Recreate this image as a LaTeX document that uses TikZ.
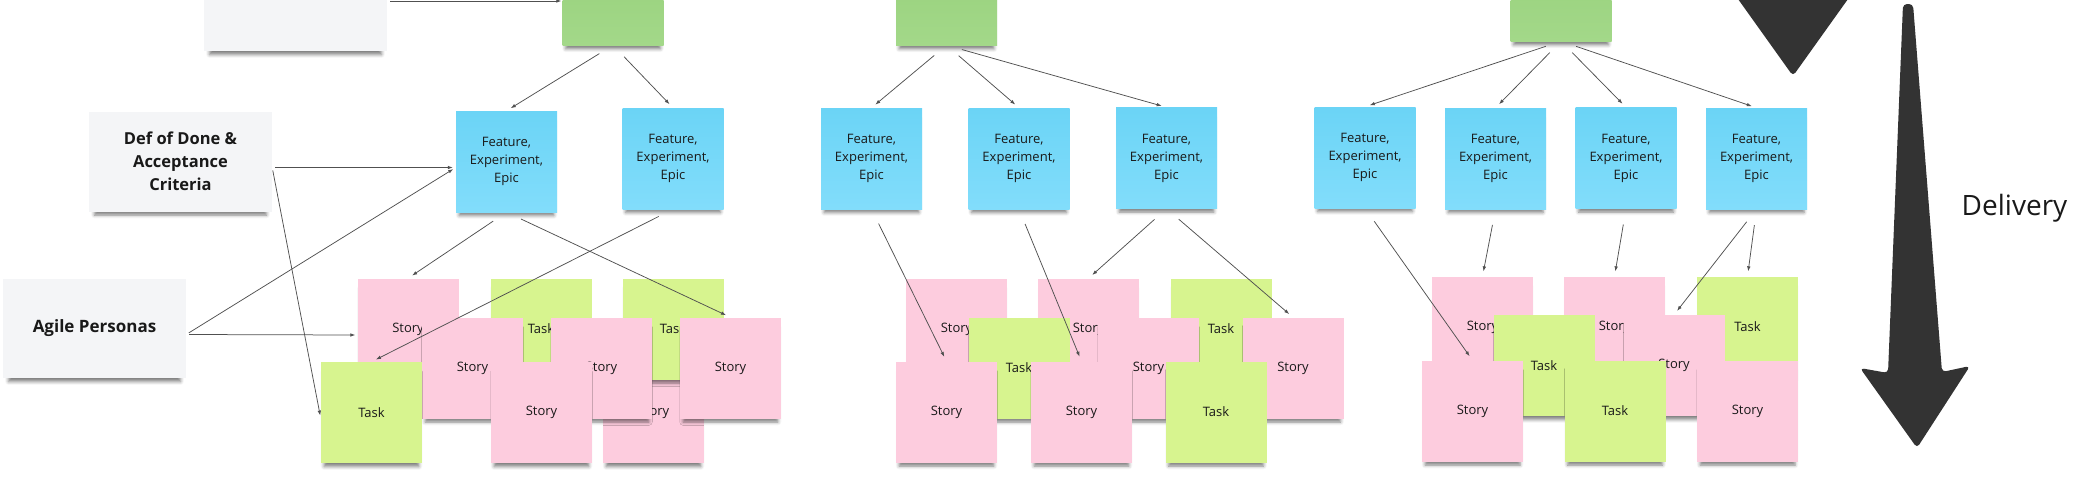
\documentclass[tikz,border=0pt]{standalone}
\usepackage{fontspec}
\setmainfont{Open Sans}
\usepackage{tikz}
\usetikzlibrary{arrows}
\usetikzlibrary{arrows.meta}
\usetikzlibrary{shadows.blur}
\definecolor{feblue}{HTML}{6BD4F6}
\definecolor{feblue2}{HTML}{82DDFB}
\definecolor{epicgreen}{HTML}{97D17B}
\definecolor{epicgreen2}{HTML}{A3D889}
\definecolor{storypink}{HTML}{FDCCDE}
\definecolor{tasklime}{HTML}{D7F48F}
\definecolor{notegray}{HTML}{F4F5F7}
\definecolor{linkgray}{HTML}{505050}
\definecolor{arrowdark}{HTML}{333333}

\begin{document}
\begin{tikzpicture}[x=1pt, y=-1pt,
    paper/.style={inner sep=0pt, align=center, text=black!90, blur shadow={shadow xshift=0pt, shadow yshift=-7pt, shadow scale=0.94, shadow blur radius=3.5pt, shadow opacity=50}},
    sticky/.style={paper, minimum width=101pt, minimum height=101pt, font=\fontsize{13}{18}\selectfont},
    story/.style={sticky, fill=storypink},
    task/.style={sticky, fill=tasklime},
    fe/.style={sticky, top color=feblue, bottom color=feblue2},
    epic/.style={paper, minimum width=101pt, minimum height=88pt, top color=epicgreen, bottom color=epicgreen2},
    note/.style={paper, fill=notegray, minimum width=183pt, minimum height=100pt, font=\bfseries\fontsize{16.5}{23}\selectfont},
    link/.style={draw=linkgray, line width=0.75pt, -{Latex[length=5pt,width=3.6pt]}, shorten <=16pt, shorten >=5pt}]

\useasboundingbox (0,0) rectangle (2084,479);
\clip (0,0) rectangle (2084,479);

\node[note] (gray1) at (295.5,1) {};
\node[note] (def) at (180.5,161.5) {Def of Done \&\\Acceptance\\Criteria};
\node[note, minimum height=99pt, font=\bfseries\fontsize{17}{23}\selectfont] (agile) at (94.5,328.5) {Agile Personas};

\node[epic] (green1) at (613,1) {};
\node[epic] (green2) at (946.5,1) {};
\node[epic] (green3) at (1561,-3) {};

\node[fe] (fe1) at (506.5,161.5) {Feature,\\Experiment,\\Epic};
\node[fe] (fe2) at (673,158.5) {Feature,\\Experiment,\\Epic};
\node[fe] (fe3) at (871.5,158.5) {Feature,\\Experiment,\\Epic};
\node[fe] (fe4) at (1019,158.5) {Feature,\\Experiment,\\Epic};
\node[fe] (fe5) at (1166.5,158) {Feature,\\Experiment,\\Epic};
\node[fe] (fe6) at (1365,157.5) {Feature,\\Experiment,\\Epic};
\node[fe] (fe7) at (1495.5,158.5) {Feature,\\Experiment,\\Epic};
\node[fe] (fe8) at (1626,158) {Feature,\\Experiment,\\Epic};
\node[fe] (fe9) at (1756.5,158.5) {Feature,\\Experiment,\\Epic};

\node[story] (sI) at (653.5,412.5) {Story};
\node[story] (sA) at (408,329) {Story};
\node[task] (tB) at (541,329) {Task};
\node[task] (tC) at (673,329) {Task};
\node[story] (sD) at (472.5,368) {Story};
\node[story] (sE) at (601.5,368) {Story};
\node[story] (sF) at (730.5,368) {Story};
\node[task] (tG) at (371.5,412.5) {Task};
\node[story] (sH) at (541.5,412.5) {Story};

\node[story] (sJ) at (956.5,329) {Story};
\node[story] (sK) at (1088.5,329) {Story};
\node[task] (tL) at (1221,329) {Task};
\node[task] (tM) at (1019,368) {Task};
\node[story] (sN) at (1148.5,368) {Story};
\node[story] (sO) at (1293,368) {Story};
\node[story] (sP) at (946.5,412) {Story};
\node[story] (sQ) at (1081.5,412) {Story};
\node[task] (tR) at (1216,412) {Task};

\node[story] (sS) at (1482.5,327) {Story};
\node[story] (sT) at (1614.5,327) {Story};
\node[task] (tU) at (1747.5,327) {Task};
\node[task] (tV) at (1544,365.5) {Task};
\node[story] (sW) at (1674,365.5) {Story};
\node[story] (sZ) at (1472.5,411) {Story};
\node[task] (tX) at (1615,411) {Task};
\node[story] (sAA) at (1747.5,411) {Story};

\fill[arrowdark, rounded corners=4pt] (1733,-8) -- (1853,-8) -- (1793,76) -- cycle;
\fill[arrowdark, rounded corners=4pt] (1903,4) -- (1888,373) -- (1860,368) -- (1917,448) -- (1970,366) -- (1942,372) -- (1913,4) -- cycle;
\node[font=\fontsize{28}{34}\selectfont, anchor=base, text=black!90] (delivery) at (2014.5,215) {Delivery};

\draw[link, shorten <=3pt, shorten >=1pt] (gray1.east) -- (green1.west);
\draw[link] (green1.south) -- (fe1.north);
\draw[link] (green1.south) -- (fe2.north);
\draw[link, shorten <=3pt, shorten >=3pt] ([yshift=-6pt]def.east) -- ([yshift=-6pt]fe1.west);
\draw[link, shorten <=3pt, shorten >=3pt] ([yshift=-6pt]def.east) -- ([yshift=-6pt]tG.west);
\draw[link, shorten <=3pt, shorten >=3pt] ([yshift=-6pt]agile.east) -- ([yshift=-6pt]fe1.west);
\draw[link, shorten <=3pt, shorten >=2pt] ([yshift=-6pt]agile.east) -- ([yshift=-6pt]sA.west);
\draw[link] (fe1.south) -- (sA.north);
\draw[link] (fe1.south) -- (sF.north);
\draw[link] (fe2.south) -- (tG.north);

\draw[link] (green2.south) -- (fe3.north);
\draw[link] (green2.south) -- (fe4.north);
\draw[link] (green2.south) -- (fe5.north);
\draw[link] (fe3.south) -- (sP.north);
\draw[link] (fe4.south) -- (sQ.north);
\draw[link] (fe5.south) -- (sK.north);
\draw[link] (fe5.south) -- (sO.north);

\draw[link] (green3.south) -- (fe6.north);
\draw[link] (green3.south) -- (fe7.north);
\draw[link] (green3.south) -- (fe8.north);
\draw[link] (green3.south) -- (fe9.north);
\draw[link] (fe6.south) -- (sZ.north);
\draw[link] (fe7.south) -- (sS.north);
\draw[link] (fe8.south) -- (sT.north);
\draw[link] (fe9.south) -- (tU.north);
\draw[link] (fe9.south) -- (sW.north);

\end{tikzpicture}
\end{document}
